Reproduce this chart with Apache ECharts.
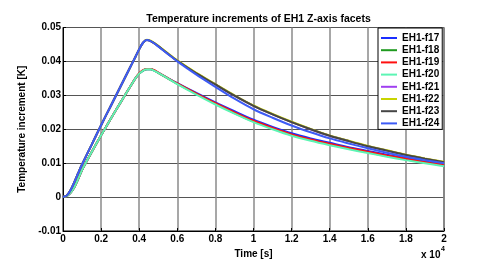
<!DOCTYPE html>
<html>
<head>
<meta charset="utf-8">
<script src="https://cdn.jsdelivr.net/npm/echarts@6/dist/echarts.min.js"></script>
<style>
html,body{margin:0;padding:0;background:#fff;}
#chart{width:491px;height:273px;}
</style>
</head>
<body>
<div id="chart"></div>
<script>
// time in seconds
var times = [0,200,400,600,800,1000,1500,2000,2500,3000,3500,3800,4000,4200,4400,4600,4800,5000,5500,6000,7000,8000,9000,10000,11000,12000,13000,14000,15000,16000,17000,18000,19000,20000];

var seriesNames = ['EH1-f17','EH1-f18','EH1-f19','EH1-f20','EH1-f21','EH1-f22','EH1-f23','EH1-f24'];
var seriesColors = ['#1a2eff','#1f9a1f','#ff1010','#5cf5b4','#a040f0','#c8d400','#454545','#3d5bf5'];

var f17 = [0,0.0003,0.0013,0.0030,0.0054,0.0080,0.0132,0.0182,0.0230,0.0277,0.0323,0.0350,0.0364,0.0373,0.0377,0.0377,0.0373,0.0367,0.0351,0.0336,0.0307,0.0279,0.0253,0.0228,0.0207,0.0188,0.0173,0.0160,0.0147,0.0136,0.0125,0.0115,0.0105,0.0097];
var f18 = [0,0.0003,0.0013,0.0030,0.0054,0.0080,0.0132,0.0182,0.0230,0.0277,0.0323,0.0350,0.0364,0.0373,0.0377,0.0377,0.0373,0.0366,0.0350,0.0334,0.0304,0.0275,0.0248,0.0223,0.0202,0.0183,0.0168,0.0155,0.0143,0.0132,0.0121,0.0111,0.0102,0.0093];
var f19 = [0,0.0003,0.0013,0.0030,0.0054,0.0080,0.0132,0.0182,0.0230,0.0277,0.0323,0.0350,0.0365,0.0374,0.0378,0.0378,0.0374,0.0367,0.0351,0.0335,0.0305,0.0277,0.0250,0.0225,0.0204,0.0185,0.0170,0.0157,0.0145,0.0134,0.0123,0.0113,0.0103,0.0095];
var f20 = [0,0.0003,0.0013,0.0030,0.0054,0.0080,0.0132,0.0182,0.0230,0.0277,0.0323,0.0350,0.0364,0.0373,0.0377,0.0377,0.0372,0.0366,0.0350,0.0333,0.0302,0.0273,0.0246,0.0221,0.0200,0.0181,0.0166,0.0153,0.0141,0.0130,0.0119,0.0109,0.0100,0.0091];
var f21 = [0,0.0005,0.0021,0.0045,0.0071,0.0096,0.0154,0.0212,0.0268,0.0324,0.0380,0.0413,0.0436,0.0455,0.0463,0.0460,0.0453,0.0445,0.0423,0.0402,0.0365,0.0332,0.0299,0.0269,0.0244,0.0221,0.0200,0.0181,0.0165,0.0150,0.0137,0.0124,0.0113,0.0103];
var f22 = [0,0.0005,0.0021,0.0045,0.0071,0.0096,0.0154,0.0212,0.0268,0.0324,0.0380,0.0413,0.0436,0.0455,0.0464,0.0461,0.0454,0.0446,0.0424,0.0403,0.0366,0.0333,0.0300,0.0270,0.0245,0.0222,0.0201,0.0182,0.0166,0.0151,0.0138,0.0125,0.0114,0.0104];
var f23 = [0,0.0005,0.0021,0.0045,0.0071,0.0096,0.0154,0.0212,0.0268,0.0324,0.0380,0.0413,0.0436,0.0455,0.0463,0.0460,0.0453,0.0445,0.0423,0.0402,0.0365,0.0332,0.0299,0.0269,0.0244,0.0221,0.0200,0.0181,0.0165,0.0150,0.0137,0.0124,0.0113,0.0103];
var f24 = [0,0.0005,0.0021,0.0045,0.0071,0.0096,0.0154,0.0212,0.0268,0.0324,0.0380,0.0413,0.0436,0.0455,0.0463,0.0460,0.0453,0.0444,0.0422,0.0400,0.0361,0.0325,0.0290,0.0259,0.0234,0.0211,0.0191,0.0173,0.0158,0.0144,0.0131,0.0119,0.0109,0.0100];

var allValues = [f17,f18,f19,f20,f21,f22,f23,f24];

var yTicks = {min:-0.01, max:0.05, interval:0.01};
var xTicks = {min:0, max:20000, interval:2000};

var FONT = 'Liberation Sans, Arial, Helvetica, sans-serif';

var series = seriesNames.map(function(name, i){
  return {
    name: name,
    type: 'line',
    showSymbol: false,
    symbol: 'none',
    smooth: 0.3,
    data: times.map(function(t, k){ return [t, allValues[i][k]]; }),
    lineStyle: {color: seriesColors[i], width: 2},
    itemStyle: {color: seriesColors[i]},
    z: 2 + i
  };
});

var chart = echarts.init(document.getElementById('chart'), null, {renderer:'canvas'});
chart.setOption({
  animation: false,
  backgroundColor: '#fff',
  title: {
    text: 'Temperature increments of EH1 Z-axis facets',
    left: 253.5, top: 9, textAlign: 'center',
    textStyle: {fontFamily: FONT, fontSize: 10.5, fontWeight: 'bold', color: '#000'}
  },
  grid: {left: 63, top: 27.5, width: 381, height: 203.5, show: true, borderColor: '#000', borderWidth: 1, backgroundColor: 'transparent', containLabel: false},
  legend: {
    data: seriesNames,
    orient: 'vertical',
    left: 378, top: 28,
    icon: 'rect',
    itemWidth: 16, itemHeight: 2,
    itemGap: 2.2,
    padding: [5, 3, 1, 3],
    backgroundColor: '#fff',
    borderColor: '#000', borderWidth: 1,
    textStyle: {fontFamily: FONT, fontSize: 10, fontWeight: 'bold', color: '#000', lineHeight: 10},
    selectedMode: false
  },
  xAxis: {
    type: 'value',
    min: xTicks.min, max: xTicks.max, interval: xTicks.interval,
    name: 'Time [s]', nameLocation: 'middle', nameGap: 13,
    nameTextStyle: {fontFamily: FONT, fontSize: 10, fontWeight: 'bold', color: '#000'},
    axisLine: {show: true, onZero: false, lineStyle: {color: '#000', width: 1}},
    axisTick: {show: true, inside: true, length: 3, lineStyle: {color: '#000'}},
    axisLabel: {
      fontFamily: FONT, fontSize: 10, fontWeight: 'bold', color: '#000', margin: 3,
      formatter: function(v){ return String(parseFloat((v/10000).toFixed(1))); }
    },
    splitLine: {show: true, lineStyle: {color: '#8a8a8a', width: 1.5}}
  },
  yAxis: {
    type: 'value',
    min: yTicks.min, max: yTicks.max, interval: yTicks.interval,
    name: 'Temperature increment [K]', nameLocation: 'middle', nameGap: 30,
    nameTextStyle: {fontFamily: FONT, fontSize: 10, fontWeight: 'bold', color: '#000'},
    axisLine: {show: true, lineStyle: {color: '#000', width: 1}},
    axisTick: {show: true, inside: true, length: 3, lineStyle: {color: '#000'}},
    axisLabel: {
      fontFamily: FONT, fontSize: 10, fontWeight: 'bold', color: '#000', margin: 2,
      formatter: function(v){ return String(parseFloat(v.toFixed(2))); }
    },
    splitLine: {show: true, lineStyle: {color: '#555', width: 1}}
  },
  graphic: [
    {type: 'text', left: 421, top: 250, style: {text: 'x 10', fontFamily: FONT, fontSize: 10, fontWeight: 'bold', fill: '#000'}},
    {type: 'text', left: 441, top: 246, style: {text: '4', fontFamily: FONT, fontSize: 7, fontWeight: 'bold', fill: '#000'}}
  ],
  series: series
});
</script>
</body>
</html>
